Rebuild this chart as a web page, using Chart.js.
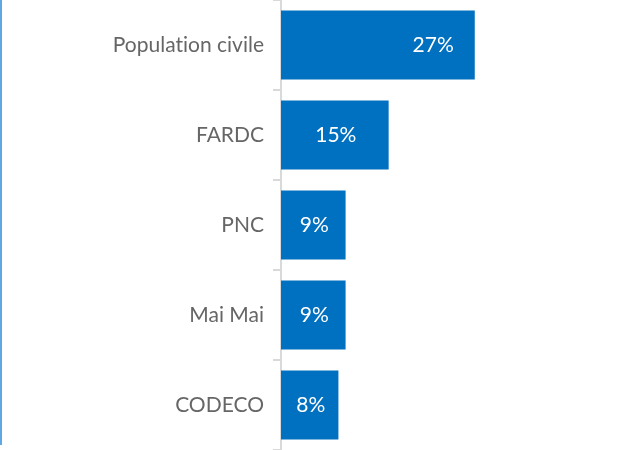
<!DOCTYPE html>
<html>
<head>
<meta charset="utf-8">
<script src="https://cdn.jsdelivr.net/npm/chart.js@4"></script>
<style>
  html, body { margin: 0; padding: 0; background: #fff; }
  #wrap { position: relative; width: 619px; height: 450px; }
  #edge { position: absolute; left: 0; top: 0; width: 2px; height: 445px; background: #5fa8e4; }
</style>
</head>
<body>
<div id="wrap">
  <canvas id="myChart" width="619" height="450"></canvas>
  <div id="edge"></div>
</div>
<script>
var categories = ["Population civile", "FARDC", "PNC", "Mai Mai", "CODECO"];
var values = [27, 15, 9, 9, 8];
var valueLabels = ["27%", "15%", "9%", "9%", "8%"];

var barColor = "#0070c0";
var fontName = "Lato, 'Open Sans', sans-serif";

// no ligatures ("ti") in the canvas text
var plainText = {
  id: "plainText",
  beforeDraw: function(chart) {
    chart.ctx.textRendering = "optimizeSpeed";
  }
};

// white value labels inside the bars
var valueText = {
  id: "valueText",
  afterDatasetsDraw: function(chart) {
    var ctx = chart.ctx;
    var meta = chart.getDatasetMeta(0);
    ctx.save();
    ctx.font = "21px " + fontName;
    ctx.fillStyle = "#ffffff";
    ctx.textBaseline = "middle";
    meta.data.forEach(function(bar, i) {
      var w = bar.x - bar.base;
      if (w > 150) {
        ctx.textAlign = "right";
        ctx.fillText(valueLabels[i], bar.x - 21, bar.y);
      } else {
        ctx.textAlign = "center";
        ctx.fillText(valueLabels[i], bar.base + w / 2 + 1, bar.y);
      }
    });
    ctx.restore();
  }
};

new Chart("myChart", {
  type: "bar",
  data: {
    labels: categories,
    datasets: [{
      data: values,
      backgroundColor: barColor,
      categoryPercentage: 1,
      barPercentage: 0.765
    }]
  },
  options: {
    indexAxis: "y",
    responsive: false,
    animation: false,
    layout: { padding: 0 },
    plugins: {
      legend: { display: false },
      tooltip: { enabled: false }
    },
    scales: {
      x: {
        display: false,
        min: 0,
        max: 47.1
      },
      y: {
        afterFit: function(scale) {
          scale.width = 281;
          scale.paddingTop = 0;
          scale.paddingBottom = 0;
        },
        border: { display: true, color: "#d9d9d9", width: 2 },
        grid: {
          offset: true,
          drawOnChartArea: false,
          drawTicks: true,
          tickLength: 8,
          color: "#d9d9d9",
          lineWidth: 2
        },
        ticks: {
          color: "#666666",
          padding: 9,
          font: { family: fontName, size: 21 }
        }
      }
    }
  },
  plugins: [plainText, valueText]
});
</script>
</body>
</html>
